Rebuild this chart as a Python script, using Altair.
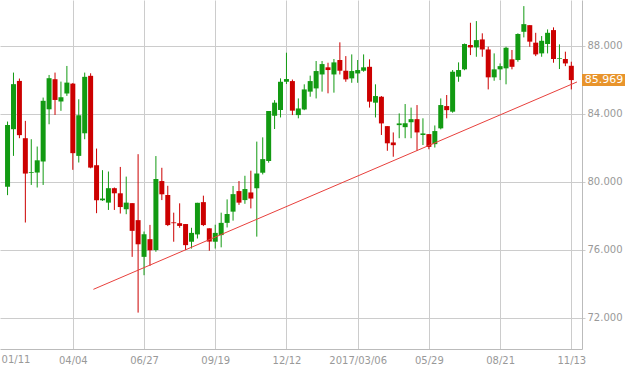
import altair as alt
import numpy as np
import pandas as pd

# ---- data (weekly candles) ----
first_week = "2016-01-18"
opens = [79.69, 83.08, 85.92, 82.55, 80.50, 80.53, 81.18, 84.25, 86.02, 84.71,
         85.18, 85.76, 81.51, 82.84, 86.22, 80.96, 78.90, 78.76, 79.61, 79.31,
         78.37, 78.73, 77.73, 75.57, 76.61, 75.97, 80.03, 79.21, 77.60, 77.55,
         77.50, 76.46, 76.89, 78.79, 77.25, 76.46, 76.85, 77.57, 78.23, 79.44,
         78.91, 79.36, 79.60, 80.52, 81.21, 83.87, 84.21, 85.87, 85.91, 83.91,
         84.24, 85.29, 85.48, 86.30, 86.72, 86.30, 87.15, 86.52, 86.07, 86.36,
         86.52, 86.75, 84.64, 84.99, 83.26, 82.30, 83.32, 83.20, 83.49, 83.67,
         82.74, 82.79, 82.20, 83.13, 84.44, 84.11, 86.17, 86.60, 88.03, 87.89,
         88.36, 87.77, 86.13, 86.60, 86.66, 87.19, 87.15, 88.81, 89.20, 88.17,
         87.54, 88.09, 88.91, 87.21, 87.21, 86.81]
highs = [83.53, 86.41, 86.06, 83.57, 82.49, 82.06, 84.94, 86.27, 86.41, 85.88,
         86.80, 85.80, 84.84, 86.41, 86.37, 81.94, 80.67, 80.59, 79.65, 80.86,
         80.29, 78.73, 81.61, 77.06, 77.45, 81.50, 80.81, 79.75, 78.17, 78.72,
         77.50, 77.28, 78.75, 79.17, 77.25, 77.46, 78.17, 78.95, 79.74, 80.03,
         80.34, 80.64, 82.35, 82.60, 84.15, 84.79, 86.07, 87.58, 86.00, 84.89,
         85.72, 86.23, 87.09, 87.09, 86.99, 87.21, 88.19, 87.38, 87.48, 87.15,
         87.48, 87.19, 85.72, 85.03, 83.26, 82.89, 84.01, 84.56, 84.35, 84.50,
         83.72, 82.79, 83.30, 84.89, 85.09, 86.56, 87.01, 88.12, 89.34, 89.44,
         88.72, 87.93, 87.54, 86.95, 87.93, 87.74, 88.72, 90.32, 89.20, 88.75,
         88.56, 88.95, 89.07, 88.07, 87.64, 87.05]
lows = [79.20, 81.51, 82.55, 77.59, 79.80, 79.65, 79.80, 83.37, 83.92, 84.16,
        85.04, 80.69, 81.12, 82.49, 80.78, 78.14, 78.86, 78.33, 78.33, 78.12,
        78.08, 75.57, 72.29, 74.49, 75.04, 75.87, 78.91, 77.38, 76.46, 77.28,
        75.97, 76.06, 76.65, 77.38, 75.93, 76.06, 76.13, 77.30, 77.70, 78.63,
        78.69, 78.42, 76.76, 80.42, 81.11, 83.09, 83.77, 85.74, 83.91, 83.72,
        84.20, 84.99, 84.89, 85.29, 85.19, 85.23, 86.30, 85.87, 85.81, 85.81,
        86.46, 84.35, 83.77, 82.74, 81.81, 81.46, 82.55, 82.55, 82.55, 81.81,
        82.15, 81.90, 82.00, 83.07, 83.72, 84.05, 85.87, 86.55, 87.44, 87.34,
        87.34, 85.42, 85.93, 85.97, 85.72, 86.60, 87.05, 88.48, 87.93, 87.38,
        87.34, 87.54, 86.99, 86.62, 86.79, 85.42]
closes = [83.33, 85.73, 82.73, 80.47, 80.55, 81.25, 84.75, 86.08, 84.80, 84.96,
          85.82, 81.67, 83.90, 86.16, 80.82, 78.90, 79.00, 79.61, 79.31, 78.50,
          78.76, 77.10, 76.31, 76.90, 75.96, 80.15, 79.25, 77.44, 77.55, 77.39,
          76.26, 76.98, 78.75, 77.44, 76.47, 76.98, 77.57, 78.09, 79.26, 78.76,
          79.56, 79.00, 80.48, 81.32, 84.15, 84.64, 85.87, 86.03, 84.17, 84.30,
          85.42, 85.91, 86.50, 86.91, 86.56, 87.01, 86.52, 86.01, 86.50, 86.56,
          86.72, 84.70, 85.03, 83.42, 82.25, 82.14, 83.42, 83.43, 83.67, 82.89,
          82.83, 82.04, 82.97, 84.50, 84.20, 86.46, 86.56, 88.09, 87.89, 88.32,
          87.77, 86.13, 86.60, 86.79, 87.87, 86.75, 88.68, 89.26, 88.23, 87.48,
          88.28, 88.75, 87.21, 87.25, 86.95, 85.969]

tick_dates = ["2016-01-11", "2016-04-04", "2016-06-27", "2016-09-19", "2016-12-12",
              "2017-03-06", "2017-05-29", "2017-08-21", "2017-11-13"]
tick_labels = ["01/11", "04/04", "06/27", "09/19", "12/12",
               "2017/03/06", "05/29", "08/21", "11/13"]
y_ticks = [72, 76, 80, 84, 88]
y_domain = [70.15, 90.68]
x_domain_dates = ["2016-01-15", "2017-11-19 17:00"]

trend_dates = ["2016-04-28 07:00", "2017-11-19 17:00"]
trend_values = [73.66, 85.86]

GREEN = "#129a12"
RED = "#cc0000"
GRID = "#cccccc"
LABEL = "#999999"
FONT = "DejaVu Sans"

# ---- build tables ----
origin = pd.Timestamp(tick_dates[0])
def to_day(s):
    return (pd.to_datetime(s) - origin) / pd.Timedelta(days=1)

dates = pd.date_range(first_week, periods=len(opens), freq="7D")
df = pd.DataFrame({
    "day": to_day(dates),
    "open": opens, "high": highs, "low": lows, "close": closes,
})
df["dir"] = np.where(df["close"] >= df["open"], "up", "down")

tick_days = [float(to_day(d)) for d in tick_dates]
x_domain = [float(to_day(d)) for d in x_domain_dates]

trend = pd.DataFrame({"day": [float(to_day(d)) for d in trend_dates], "v": trend_values})

first_lab = pd.DataFrame({"day": [tick_days[0]], "lab": [tick_labels[0]]})
last = pd.DataFrame({"v": [closes[-1]], "lab": [f"{closes[-1]:.3f}"]})

expr = "''"
for d, l in zip(tick_days[1:], tick_labels[1:]):
    expr = f"datum.value == {d:g} ? '{l}' : ({expr})"

xscale = alt.Scale(domain=x_domain, nice=False, zero=False)
yscale = alt.Scale(domain=y_domain, nice=False, zero=False)

xaxis = alt.Axis(values=tick_days[1:], grid=True, gridColor=GRID, ticks=False,
                 domain=True, domainColor="#bbbbbb", labelExpr=expr,
                 labelFont=FONT, labelFontSize=10, labelColor=LABEL,
                 labelPadding=6, title=None)
yaxis = alt.Axis(orient="right", values=y_ticks, format=".3f", grid=True,
                 gridColor=GRID, tickSize=3, tickColor=GRID, domain=True,
                 domainColor="#bbbbbb", labelFont=FONT, labelFontSize=10,
                 labelColor=LABEL, labelPadding=2, title=None)

color = alt.Color("dir:N", scale=alt.Scale(domain=["up", "down"], range=[GREEN, RED]),
                  legend=None)

base = alt.Chart(df)
wick = base.mark_rule(strokeWidth=1).encode(
    x=alt.X("day:Q", scale=xscale, axis=xaxis),
    y=alt.Y("low:Q", scale=yscale, axis=yaxis),
    y2="high:Q",
    color=color,
)
body = base.mark_bar(size=5).encode(
    x=alt.X("day:Q", scale=xscale),
    y=alt.Y("open:Q", scale=yscale),
    y2="close:Q",
    color=color,
)
trend_line = alt.Chart(trend).mark_line(color="#e8403c", strokeWidth=1, clip=True).encode(
    x=alt.X("day:Q", scale=xscale),
    y=alt.Y("v:Q", scale=yscale),
)
first_label = alt.Chart(first_lab).mark_text(
    align="left", baseline="top", font=FONT, fontSize=10, color=LABEL, clip=False
).encode(
    x=alt.X("day:Q", scale=xscale),
    y=alt.value(355),
    text="lab:N",
)
tag_box = alt.Chart(last).mark_point(
    shape="M -1 -0.2727 L 1 -0.2727 L 1 0.2727 L -1 0.2727 Z",
    filled=True, opacity=1, color="#e8942c", size=484 * 4, clip=False
).encode(
    x=alt.value(604),
    y=alt.Y("v:Q", scale=yscale),
)
tag_text = alt.Chart(last).mark_text(
    align="center", baseline="middle", font=FONT, fontSize=11, color="white", clip=False
).encode(
    x=alt.value(604),
    y=alt.Y("v:Q", scale=yscale),
    text="lab:N",
)

chart = alt.layer(wick, body, trend_line, first_label, tag_box, tag_text).properties(
    width=582, height=349,
    autosize=alt.AutoSizeParams(type="none"),
    padding={"left": 0, "top": 0, "right": 43, "bottom": 22},
).configure_view(stroke=None)

chart.save("out.html", embed_options={"renderer": "svg", "actions": False})
